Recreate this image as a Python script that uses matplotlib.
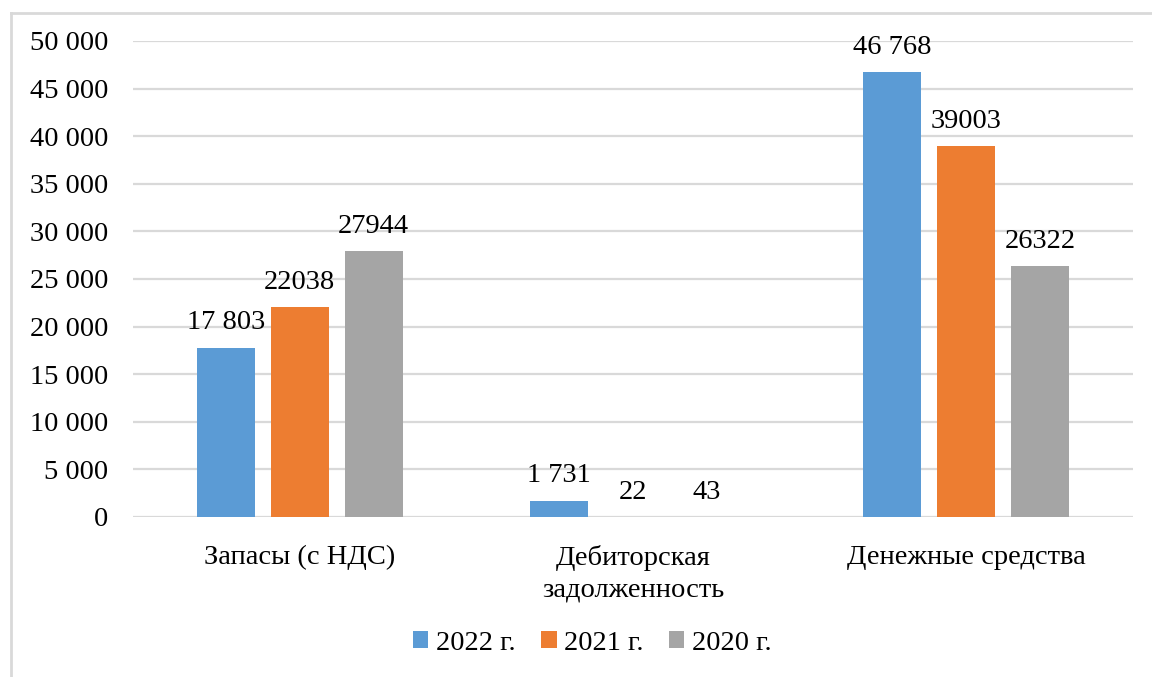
import matplotlib
matplotlib.use("Agg")
import matplotlib.pyplot as plt
from matplotlib.lines import Line2D
from matplotlib.patches import Patch
from matplotlib.ticker import FuncFormatter, MultipleLocator
import numpy as np

categories = ["Запасы (с НДС)", "Дебиторская\nзадолженность", "Денежные средства"]
series_names = ["2022 г.", "2021 г.", "2020 г."]
values_2022 = [17803, 1731, 46768]
values_2021 = [22038, 22, 39003]
values_2020 = [27944, 43, 26322]
series_values = [values_2022, values_2021, values_2020]
colors = ["#5B9BD5", "#ED7D31", "#A5A5A5"]
# 2022 labels use a thousands separator, the other years are printed plain
label_grouped = [True, False, False]

plt.rcParams["font.family"] = ["Liberation Serif", "DejaVu Serif"]
FS = 20.5

W, H = 1152, 677
fig = plt.figure(figsize=(W / 100, H / 100), dpi=100)
ax = fig.add_axes([133 / W, 1 - 517 / H, 1000 / W, 476 / H])

x = np.arange(len(categories))
offsets = [-0.222, 0.0, 0.222]
bar_w = 0.174


def grouped(v):
    return f"{v:,}".replace(",", " ")


for vals, off, col, grp in zip(series_values, offsets, colors, label_grouped):
    bars = ax.bar(x + off, vals, width=bar_w, color=col, zorder=3)
    for b, v in zip(bars, vals):
        txt = grouped(v) if grp else str(v)
        ax.annotate(txt, (b.get_x() + b.get_width() / 2, v),
                    xytext=(0, 13), textcoords="offset points",
                    ha="center", va="baseline", fontsize=FS, color="#000000")

ax.set_xlim(-0.5, 2.5)
ax.set_ylim(0, 50000)
ax.yaxis.set_major_locator(MultipleLocator(5000))
ax.yaxis.set_major_formatter(FuncFormatter(lambda v, p: grouped(int(v))))
ax.grid(axis="y", color="#d9d9d9", linewidth=1.6, zorder=0)
ax.set_axisbelow(True)
for s in ax.spines.values():
    s.set_visible(False)
ax.tick_params(axis="y", length=0, pad=18, labelsize=FS, labelcolor="#000000")
ax.tick_params(axis="x", length=0, pad=20, labelsize=FS, labelcolor="#000000")
ax.set_xticks(x)
ax.set_xticklabels(categories, linespacing=1.35)

handles = [Patch(facecolor=c, edgecolor="none") for c in colors]
fig.legend(handles, series_names, loc="center",
           bbox_to_anchor=(592 / W, 1 - 643 / H), ncol=3, frameon=False,
           fontsize=FS, handlelength=0.55, handleheight=0.55,
           handletextpad=0.25, columnspacing=0.9)

# outer chart frame
frame_kw = dict(color="#d9d9d9", linewidth=2, transform=fig.transFigure)
fig.add_artist(Line2D([10.5 / W, 10.5 / W], [0, 1 - 12.5 / H], **frame_kw))
fig.add_artist(Line2D([10.5 / W, 1], [1 - 12.5 / H, 1 - 12.5 / H], **frame_kw))

fig.savefig("out.png", dpi=100, facecolor="white")
